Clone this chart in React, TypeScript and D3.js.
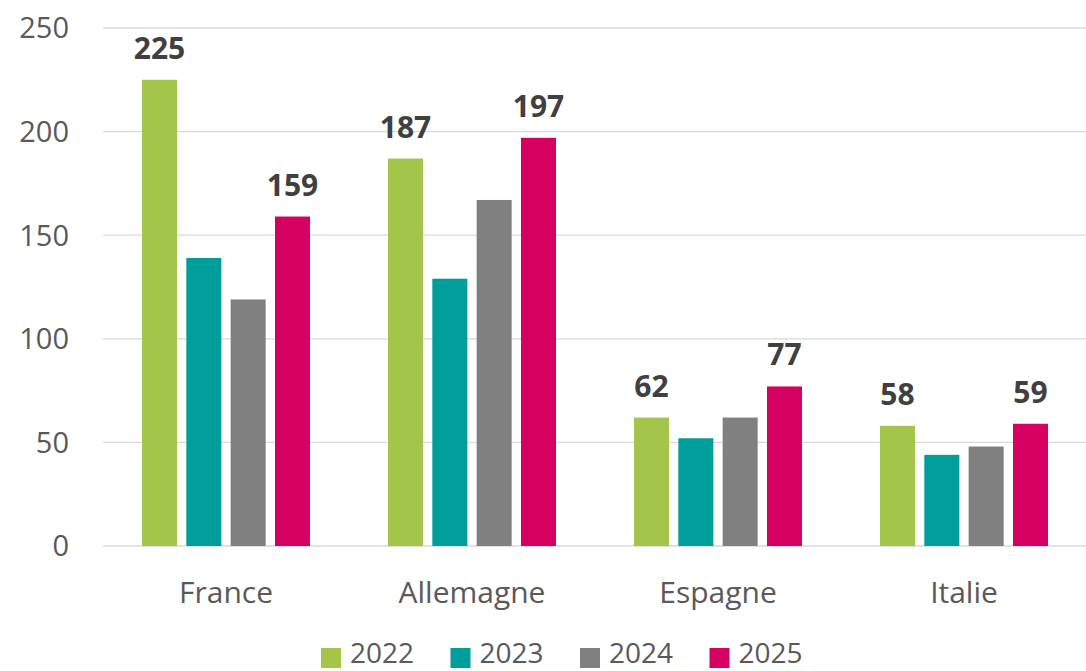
import React from "react";
import * as d3 from "d3";

const WIDTH = 1086;
const HEIGHT = 671;
const MARGIN = { top: 28, right: -1, bottom: 125, left: 103 };

const countries = ["France", "Allemagne", "Espagne", "Italie"];
const years = ["2022", "2023", "2024", "2025"];
const values2022 = [225, 187, 62, 58];
const values2023 = [139, 129, 52, 44];
const values2024 = [119, 167, 62, 48];
const values2025 = [159, 197, 77, 59];
const yTicks = [0, 50, 100, 150, 200, 250];
const labelledYears = ["2022", "2025"];

const COLORS = ["#A3C54A", "#009E9A", "#808080", "#D60063"];
const FONT = "'Open Sans', 'Noto Sans', sans-serif";

export default function App() {
  const boundsWidth = WIDTH - MARGIN.left - MARGIN.right;
  const boundsHeight = HEIGHT - MARGIN.top - MARGIN.bottom;

  const series = [values2022, values2023, values2024, values2025];

  const x0 = d3.scaleBand().domain(countries).range([0, boundsWidth]).padding(0);
  const x1 = d3
    .scaleBand()
    .domain(years)
    .range([0, x0.bandwidth()])
    .paddingInner(0.21)
    .paddingOuter(0.88);
  const yScale = d3.scaleLinear().domain([0, 250]).range([boundsHeight, 0]);
  const color = d3.scaleOrdinal<string, string>().domain(years).range(COLORS);

  // legend layout
  const legendX = d3.scaleBand().domain(years).range([321, 321 + 4 * 129.5]);

  return (
    <div style={{ position: "absolute", left: 0, top: 0 }}>
      <svg width={WIDTH} height={HEIGHT} style={{ display: "block", background: "#fff" }}>
        <g transform={`translate(${MARGIN.left},${MARGIN.top})`}>
          {/* gridlines */}
          {yTicks.map((t) => (
            <line
              key={t}
              x1={0}
              x2={boundsWidth}
              y1={yScale(t)}
              y2={yScale(t)}
              stroke="#D9D9D9"
              strokeWidth={t === 0 ? 1.5 : 1.3}
            />
          ))}
          {yTicks.map((t) => (
            <text
              key={"l" + t}
              x={-34}
              y={yScale(t)}
              dy="0.36em"
              textAnchor="end"
              fontFamily={FONT}
              fontSize={29}
              fill="#595959"
            >
              {t}
            </text>
          ))}

          {countries.map((c, ci) => (
            <g key={c} transform={`translate(${x0(c)},0)`}>
              {years.map((yr, si) => {
                const v = series[si][ci];
                const bx = x1(yr) as number;
                return (
                  <g key={yr}>
                    <rect
                      x={bx}
                      y={yScale(v)}
                      width={x1.bandwidth()}
                      height={boundsHeight - yScale(v)}
                      fill={color(yr)}
                    />
                    {labelledYears.includes(yr) && (
                      <text
                        x={bx + x1.bandwidth() / 2}
                        y={yScale(v) - 21}
                        textAnchor="middle"
                        fontFamily={FONT}
                        fontWeight="bold"
                        fontSize={30}
                        fill="#404040"
                      >
                        {v}
                      </text>
                    )}
                  </g>
                );
              })}
              <text
                x={x0.bandwidth() / 2}
                y={boundsHeight + 57}
                textAnchor="middle"
                fontFamily={FONT}
                fontSize={30}
                fill="#595959"
              >
                {c}
              </text>
            </g>
          ))}
        </g>

        {/* legend */}
        {years.map((yr) => (
          <g key={yr} transform={`translate(${legendX(yr)},0)`}>
            <rect x={0} y={648} width={20} height={20} fill={color(yr)} />
            <text x={29} y={663} fontFamily={FONT} fontSize={28} fill="#595959">
              {yr}
            </text>
          </g>
        ))}
      </svg>
    </div>
  );
}
